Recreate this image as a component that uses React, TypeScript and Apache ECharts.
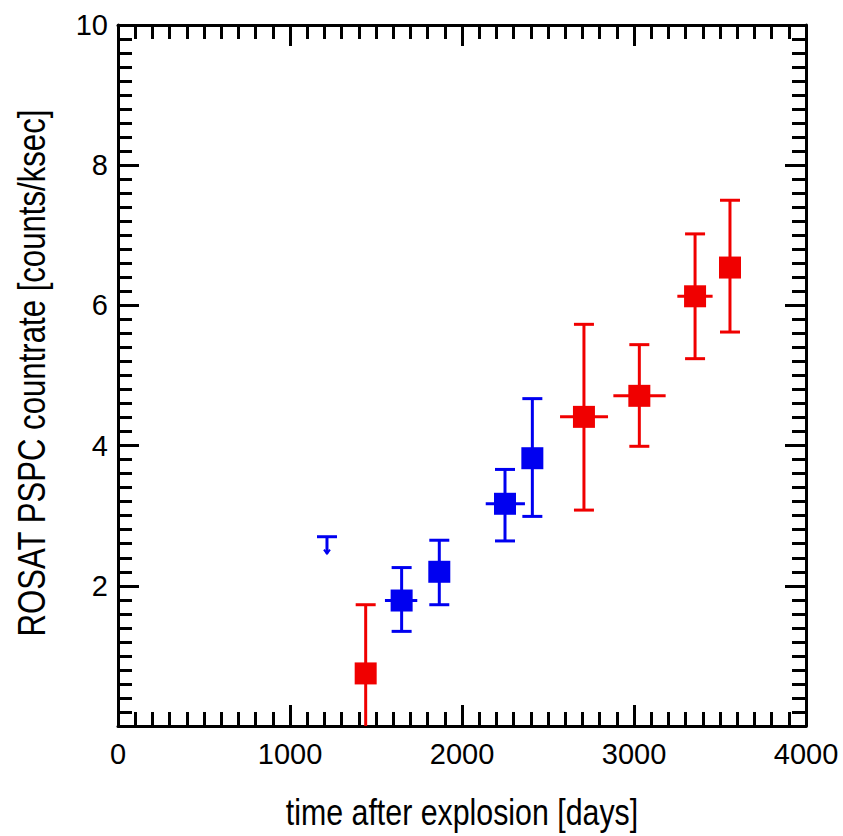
import React, { useEffect, useRef } from "react";
import * as echarts from "echarts";

// ROSAT PSPC data, blue set
const blueX = [1649, 1868, 2250, 2409];
const blueY = [1.79, 2.2, 3.17, 3.82];
const blueLo = [1.35, 1.73, 2.64, 2.99];
const blueHi = [2.26, 2.65, 3.66, 4.67];
const blueXLo = [1552, null, 2138, null];
const blueXHi = [1740, null, 2366, null];

// red set
const redX = [1440, 2709, 3031, 3355, 3558];
const redY = [0.75, 4.41, 4.71, 6.13, 6.54];
const redLo = [-0.5, 3.08, 3.99, 5.24, 5.62];
const redHi = [1.73, 5.73, 5.44, 7.02, 7.5];
const redXLo = [null, 2570, 2880, 3252, null];
const redXHi = [null, 2849, 3184, 3457, null];

// upper limit
const limitX = [1215];
const limitY = [2.7];
const limitArrowTo = [2.46];

const xTitle = "time after explosion [days]";
const yTitle = "ROSAT PSPC countrate [counts/ksec]";

const BLUE = "#0000f0";
const RED = "#f00000";
const FONT = "'Liberation Sans', Arial, Helvetica, sans-serif";

function buildErr(xs, ys, lo, hi, xlo, xhi) {
  return xs.map((x, i) => [x, ys[i], lo[i], hi[i], xlo[i] ?? x, xhi[i] ?? x]);
}

function errRender(color) {
  return (params, api) => {
    const x = api.value(0);
    const y = api.value(1);
    let lo = api.value(2);
    const hi = api.value(3);
    const xl = api.value(4);
    const xh = api.value(5);
    const c = api.coord([x, y]);
    const clipLo = lo < 0;
    if (clipLo) lo = 0;
    const pLo = api.coord([x, lo]);
    const pHi = api.coord([x, hi]);
    const st = { stroke: color, lineWidth: 3 };
    const cw = 10;
    const children = [
      { type: "line", shape: { x1: c[0], y1: pLo[1], x2: c[0], y2: pHi[1] }, style: st },
      { type: "line", shape: { x1: c[0] - cw, y1: pHi[1], x2: c[0] + cw, y2: pHi[1] }, style: st },
    ];
    if (!clipLo) {
      children.push({ type: "line", shape: { x1: c[0] - cw, y1: pLo[1], x2: c[0] + cw, y2: pLo[1] }, style: st });
    }
    if (xl !== x || xh !== x) {
      const a = api.coord([xl, y]);
      const b = api.coord([xh, y]);
      children.push({ type: "line", shape: { x1: a[0], y1: c[1], x2: b[0], y2: c[1] }, style: st });
    }
    return { type: "group", children };
  };
}

export default function App() {
  const ref = useRef(null);
  useEffect(() => {
    document.body.style.margin = "0";
    const chart = echarts.init(ref.current, null, { renderer: "svg" });
    const axisLine = { show: true, onZero: false, lineStyle: { color: "#000", width: 3 } };
    const tick = { show: true, inside: true, length: 21, lineStyle: { color: "#000", width: 3 } };
    const minor = { show: true, splitNumber: 10, length: 14, lineStyle: { color: "#000", width: 3 } };
    const option = {
      animation: false,
      backgroundColor: "#fff",
      grid: { left: 118, right: 37, top: 25, bottom: 110 },
      graphic: [
        {
          type: "text", x: 462, y: 812, scaleX: 0.82,
          style: { text: xTitle, font: "37px " + FONT, fill: "#000", align: "center", verticalAlign: "middle", textAlign: "center", textVerticalAlign: "middle" },
        },
        {
          type: "text", x: 32, y: 373, rotation: Math.PI / 2, scaleX: 0.82,
          style: { text: yTitle, font: "38px " + FONT, fill: "#000", align: "center", verticalAlign: "middle", textAlign: "center", textVerticalAlign: "middle" },
        },
      ],
      xAxis: [
        {
          type: "value", min: 0, max: 4000, interval: 1000, position: "bottom",
          axisLine, axisTick: tick, minorTick: minor, splitLine: { show: false },
          axisLabel: { fontSize: 29, color: "#000", margin: 13, fontFamily: FONT, formatter: (v) => String(v) },
        },
        {
          type: "value", min: 0, max: 4000, interval: 1000, position: "top",
          axisLine, axisTick: tick, minorTick: minor, splitLine: { show: false },
          axisLabel: { show: false },
        },
      ],
      yAxis: [
        {
          type: "value", min: 0, max: 10, interval: 2, position: "left",
          axisLine, axisTick: tick, minorTick: minor, splitLine: { show: false },
          axisLabel: {
            fontSize: 29, color: "#000", margin: 10, fontFamily: FONT, padding: [8, 0, 0, 0],
            formatter: (v) => (v === 0 ? "" : String(v)),
          },
        },
        {
          type: "value", min: 0, max: 10, interval: 2, position: "right",
          axisLine, axisTick: tick, minorTick: minor, splitLine: { show: false },
          axisLabel: { show: false },
        },
      ],
      series: [
        {
          type: "custom", renderItem: errRender(BLUE), encode: { x: 0, y: 1 },
          data: buildErr(blueX, blueY, blueLo, blueHi, blueXLo, blueXHi), z: 2,
        },
        {
          type: "custom", renderItem: errRender(RED), encode: { x: 0, y: 1 },
          data: buildErr(redX, redY, redLo, redHi, redXLo, redXHi), z: 2,
        },
        {
          type: "custom", encode: { x: 0, y: 1 }, z: 2,
          data: limitX.map((x, i) => [x, limitY[i], limitArrowTo[i]]),
          renderItem: (params, api) => {
            const p = api.coord([api.value(0), api.value(1)]);
            const q = api.coord([api.value(0), api.value(2)]);
            const st = { stroke: BLUE, lineWidth: 3 };
            return {
              type: "group",
              children: [
                { type: "line", shape: { x1: p[0] - 10, y1: p[1], x2: p[0] + 10, y2: p[1] }, style: st },
                { type: "line", shape: { x1: p[0], y1: p[1], x2: p[0], y2: q[1] }, style: st },
                { type: "polyline", shape: { points: [[p[0] - 3, q[1] - 4], [p[0], q[1]], [p[0] + 3, q[1] - 4]] }, style: { stroke: BLUE, lineWidth: 2, fill: null } },
              ],
            };
          },
        },
        {
          type: "scatter", symbol: "rect", symbolSize: 22, z: 3,
          itemStyle: { color: BLUE, opacity: 1 },
          data: blueX.map((x, i) => [x, blueY[i]]),
        },
        {
          type: "scatter", symbol: "rect", symbolSize: 22, z: 3,
          itemStyle: { color: RED, opacity: 1 },
          data: redX.map((x, i) => [x, redY[i]]),
        },
      ],
    };
    chart.setOption(option);
    return () => chart.dispose();
  }, []);
  return <div ref={ref} style={{ width: 843, height: 836 }} />;
}
